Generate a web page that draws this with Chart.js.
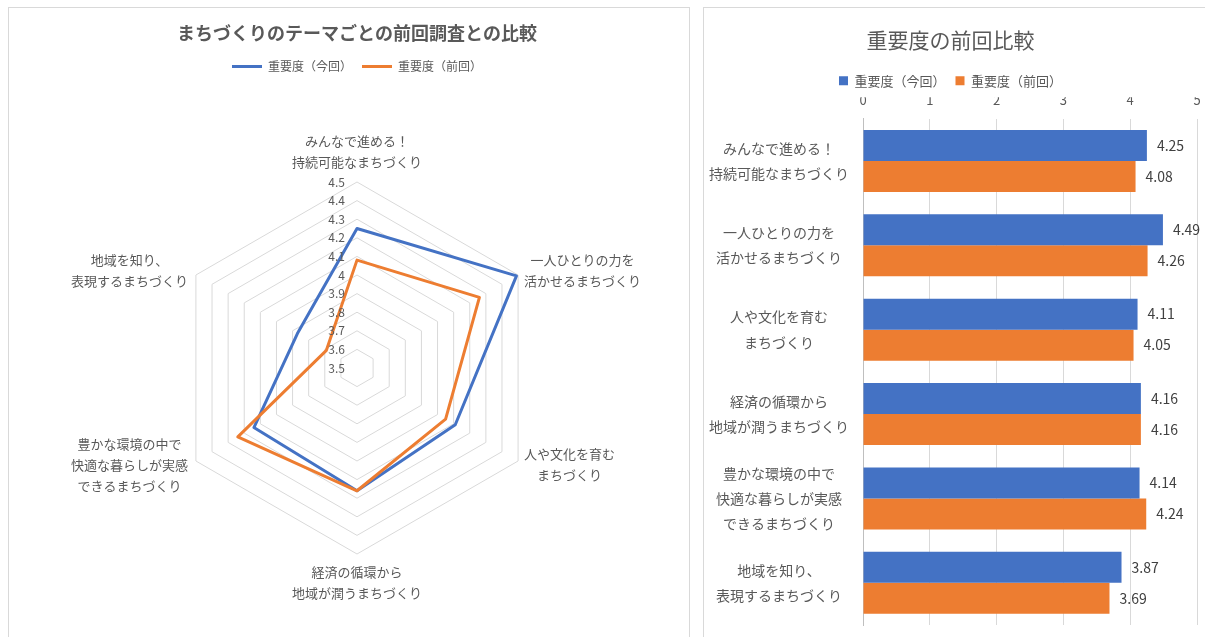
<!DOCTYPE html>
<html lang="ja">
<head>
<meta charset="utf-8">
<script src="https://cdn.jsdelivr.net/npm/chart.js@4.4.1/dist/chart.umd.min.js"></script>
<style>
html, body { margin: 0; padding: 0; background: #fff; width: 1205px; height: 637px; overflow: hidden; }
.panel { position: absolute; border: 1px solid #d9d9d9; overflow: hidden; background: #fff; }
#radarPanel { left: 8px; top: 7px; width: 680px; height: 660px; }
#barPanel { left: 703px; top: 7px; width: 530px; height: 660px; }
canvas { display: block; }
</style>
</head>
<body>
<div class="panel" id="radarPanel"><canvas id="radar" width="680" height="700"></canvas></div>
<div class="panel" id="barPanel"><canvas id="bar" width="515" height="640"></canvas></div>
<script>
// data
const themes = [
    ['みんなで進める！', '持続可能なまちづくり'],
    ['一人ひとりの力を', '活かせるまちづくり'],
    ['人や文化を育む', 'まちづくり'],
    ['経済の循環から', '地域が潤うまちづくり'],
    ['豊かな環境の中で', '快適な暮らしが実感', 'できるまちづくり'],
    ['地域を知り、', '表現するまちづくり']
];
const seriesNames = ['重要度（今回）', '重要度（前回）'];
const importanceNow = [4.25, 4.49, 4.11, 4.16, 4.14, 3.87];
const importancePrev = [4.08, 4.26, 4.05, 4.16, 4.24, 3.69];
const radarRange = [3.5, 4.5, 0.1];   // min, max, step
const barRange = [0, 5, 1];

const FONT = "'Noto Sans CJK JP', 'Noto Sans', sans-serif";
const BLUE = '#4472C4';
const ORANGE = '#ED7D31';
const GRAY = '#595959';
const GRID = '#d9d9d9';

Chart.defaults.font.family = FONT;
Chart.defaults.color = GRAY;

// radar: tick numbers left of the axis + centred multi-line point labels
const radarText = {
    id: 'radarText',
    afterDraw(chart) {
        const s = chart.scales.r;
        const ctx = chart.ctx;
        ctx.save();
        ctx.fillStyle = GRAY;
        ctx.font = '12px ' + FONT;
        ctx.textAlign = 'right';
        ctx.textBaseline = 'middle';
        s.ticks.forEach(t => {
            const y = s.yCenter - s.getDistanceFromCenterForValue(t.value);
            ctx.fillText(String(+t.value.toFixed(1)), s.xCenter - 12, y);
        });

        ctx.font = '13px ' + FONT;
        ctx.textAlign = 'center';
        const lh = 21;
        themes.forEach((lines, i) => {
            const p = s.getPointPosition(i, s.drawingArea);
            const w = Math.max(...lines.map(l => ctx.measureText(l).width));
            const h = lines.length * lh;
            const dx = p.x - s.xCenter;
            let cx, top;
            if (Math.abs(dx) < 1) {
                cx = p.x;
                top = p.y < s.yCenter ? p.y - 9 - h : p.y + 8;
            } else {
                cx = dx > 0 ? p.x + 6 + w / 2 : p.x - 8 - w / 2;
                top = p.y - h / 2 + (p.y < s.yCenter ? -4 : 4);
            }
            lines.forEach((l, k) => ctx.fillText(l, cx, top + lh * (k + 0.5)));
        });
        ctx.restore();
    }
};

// bar: value labels at the end of each bar
const barValues = {
    id: 'barValues',
    afterDatasetsDraw(chart) {
        const ctx = chart.ctx;
        ctx.save();
        ctx.fillStyle = '#404040';
        ctx.font = '14px ' + FONT;
        ctx.textAlign = 'left';
        ctx.textBaseline = 'middle';
        chart.data.datasets.forEach((ds, di) => {
            chart.getDatasetMeta(di).data.forEach((bar, i) => {
                ctx.fillText(ds.data[i].toFixed(2), bar.x + 10, bar.y);
            });
        });
        ctx.restore();
    }
};

new Chart(document.getElementById('radar'), {
    type: 'radar',
    data: {
        labels: themes,
        datasets: [
            { label: seriesNames[0], data: importanceNow, borderColor: BLUE, backgroundColor: BLUE, order: 1 },
            { label: seriesNames[1], data: importancePrev, borderColor: ORANGE, backgroundColor: ORANGE, order: 0 }
        ]
    },
    options: {
        responsive: false,
        animation: false,
        layout: { padding: { left: 162, right: 146, bottom: 53 } },
        elements: {
            line: { borderWidth: 3, fill: false, tension: 0, borderJoinStyle: 'round' },
            point: { radius: 0, hoverRadius: 0 }
        },
        scales: {
            r: {
                min: radarRange[0],
                max: radarRange[1],
                ticks: { display: false, stepSize: radarRange[2] },
                grid: { color: GRID, lineWidth: 1 },
                angleLines: { display: false },
                pointLabels: { display: false }
            }
        },
        plugins: {
            title: {
                display: true,
                text: 'まちづくりのテーマごとの前回調査との比較',
                color: GRAY,
                font: { size: 18, weight: 'bold' },
                padding: { top: 14, bottom: 7 }
            },
            legend: {
                position: 'top',
                labels: {
                    boxWidth: 30,
                    boxHeight: 3,
                    padding: 10,
                    color: GRAY,
                    font: { size: 12 },
                    sort: (a, b) => a.datasetIndex - b.datasetIndex,
                    generateLabels: chart => Chart.defaults.plugins.legend.labels.generateLabels(chart)
                        .map(l => ({ ...l, lineWidth: 0, fillStyle: l.strokeStyle }))
                }
            },
            tooltip: { enabled: false }
        }
    },
    plugins: [radarText]
});

new Chart(document.getElementById('bar'), {
    type: 'bar',
    data: {
        labels: themes,
        datasets: [
            { label: seriesNames[0], data: importanceNow, backgroundColor: BLUE },
            { label: seriesNames[1], data: importancePrev, backgroundColor: ORANGE }
        ]
    },
    options: {
        indexAxis: 'y',
        responsive: false,
        animation: false,
        layout: { padding: { right: 22, bottom: 23 } },
        datasets: { bar: { categoryPercentage: 0.735, barPercentage: 1 } },
        scales: {
            x: {
                position: 'top',
                min: barRange[0],
                max: barRange[1],
                ticks: { stepSize: barRange[2], color: GRAY, font: { size: 13 }, padding: 11 },
                grid: { color: GRID, drawTicks: false },
                border: { display: false },
                afterFit: s => { s.height = 21.5; }
            },
            y: {
                ticks: { color: GRAY, font: { size: 14, lineHeight: 1.8 }, crossAlign: 'center', padding: 14, autoSkip: false },
                grid: { display: false, drawTicks: false },
                border: { color: '#bfbfbf' },
                afterFit: s => { s.width = 159; s.paddingTop = 0; s.paddingBottom = 0; }
            }
        },
        plugins: {
            title: {
                display: true,
                text: '重要度の前回比較',
                color: GRAY,
                font: { size: 21, weight: 'normal' },
                padding: { top: 19, bottom: 12 }
            },
            legend: {
                position: 'top',
                labels: { boxWidth: 9, boxHeight: 9, padding: 10, color: GRAY, font: { size: 13 } }
            },
            tooltip: { enabled: false }
        }
    },
    plugins: [barValues]
});
</script>
</body>
</html>
